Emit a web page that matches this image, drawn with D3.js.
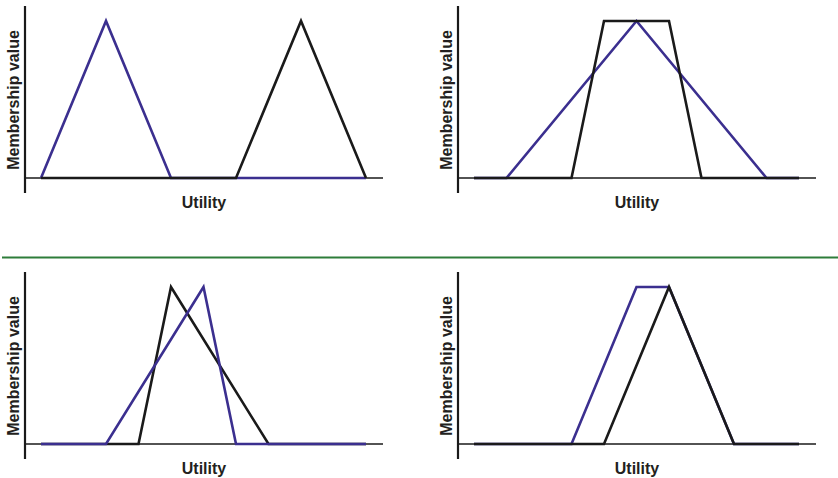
<!DOCTYPE html>
<html>
<head>
	<meta charset="utf-8">
	<script src="https://d3js.org/d3.v7.min.js"></script>
	<style>
		body { margin: 0; background: #fff; }
		text { font-family: "Liberation Sans", Arial, sans-serif; font-weight: bold; fill: #231f20; }
	</style>
</head>
<body>
	<div id="chart"></div>
	<script type="text/javascript">

		// utility on 0..10, membership on 0..1
		// panel A (top left)
		var aBlueX = [0, 2, 4, 10];
		var aBlueY = [0, 1, 0, 0];
		var aBlackX = [0, 6, 8, 10];
		var aBlackY = [0, 0, 1, 0];
		// panel B (top right)
		var bBlueX = [0, 1, 5, 9, 10];
		var bBlueY = [0, 0, 1, 0, 0];
		var bBlackX = [0, 3, 4, 6, 7, 10];
		var bBlackY = [0, 0, 1, 1, 0, 0];
		// panel C (bottom left)
		var cBlueX = [0, 2, 5, 6, 10];
		var cBlueY = [0, 0, 1, 0, 0];
		var cBlackX = [0, 3, 4, 7, 10];
		var cBlackY = [0, 0, 1, 0, 0];
		// panel D (bottom right)
		var dBlueX = [0, 3, 5, 6, 8, 10];
		var dBlueY = [0, 0, 1, 1, 0, 0];
		var dBlackX = [0, 4, 6, 8, 10];
		var dBlackY = [0, 0, 1, 0, 0];

		var xLabel = "Utility";
		var yLabel = "Membership value";

		var blue = "#3b2f8f";
		var black = "#1a1a1a";

		var svg = d3.select("#chart").append("svg")
			.attr("width", 838)
			.attr("height", 478);

		function zip(xs, ys) {
			return xs.map(function(x, i){ return [x, ys[i]]; });
		}

		var panels = [
			{ ox: 0, oy: 0, blue: zip(aBlueX, aBlueY), black: zip(aBlackX, aBlackY), blackFirst: false },
			{ ox: 433, oy: 0, blue: zip(bBlueX, bBlueY), black: zip(bBlackX, bBlackY), blackFirst: false },
			{ ox: 0, oy: 266, blue: zip(cBlueX, cBlueY), black: zip(cBlackX, cBlackY), blackFirst: true },
			{ ox: 433, oy: 266, blue: zip(dBlueX, dBlueY), black: zip(dBlackX, dBlackY), blackFirst: false }
		];

		panels.forEach(function(p){
			var g = svg.append("g").attr("transform", "translate(" + p.ox + "," + p.oy + ")");

			var xScale = d3.scaleLinear().domain([0, 10]).range([41, 366]);
			var yScale = d3.scaleLinear().domain([0, 1]).range([178, 21]);

			var line = d3.line()
				.x(function(d){ return xScale(d[0]); })
				.y(function(d){ return yScale(d[1]); });

			// axes, no ticks
			g.append("line")
				.attr("x1", 25).attr("x2", 25)
				.attr("y1", 6).attr("y2", 193)
				.attr("stroke", black).attr("stroke-width", 2.2);
			g.append("line")
				.attr("x1", 25).attr("x2", 383)
				.attr("y1", yScale(0)).attr("y2", yScale(0))
				.attr("stroke", black).attr("stroke-width", 1.6);

			var order = p.blackFirst ? [[p.black, black], [p.blue, blue]] : [[p.blue, blue], [p.black, black]];
			order.forEach(function(s){
				g.append("path")
					.datum(s[0])
					.attr("d", line)
					.attr("fill", "none")
					.attr("stroke", s[1])
					.attr("stroke-width", 2.6)
					.attr("stroke-linejoin", "miter");
			});

			g.append("text")
				.attr("x", 204).attr("y", 208)
				.attr("text-anchor", "middle")
				.attr("font-size", 16)
				.text(xLabel);

			g.append("text")
				.attr("transform", "translate(19,100) rotate(-90)")
				.attr("text-anchor", "middle")
				.attr("font-size", 16)
				.text(yLabel);
		});

		// divider between rows
		svg.append("line")
			.attr("x1", 2).attr("x2", 838)
			.attr("y1", 257.5).attr("y2", 257.5)
			.attr("stroke", "#2e7d3a")
			.attr("stroke-width", 2);

	</script>
</body>
</html>
